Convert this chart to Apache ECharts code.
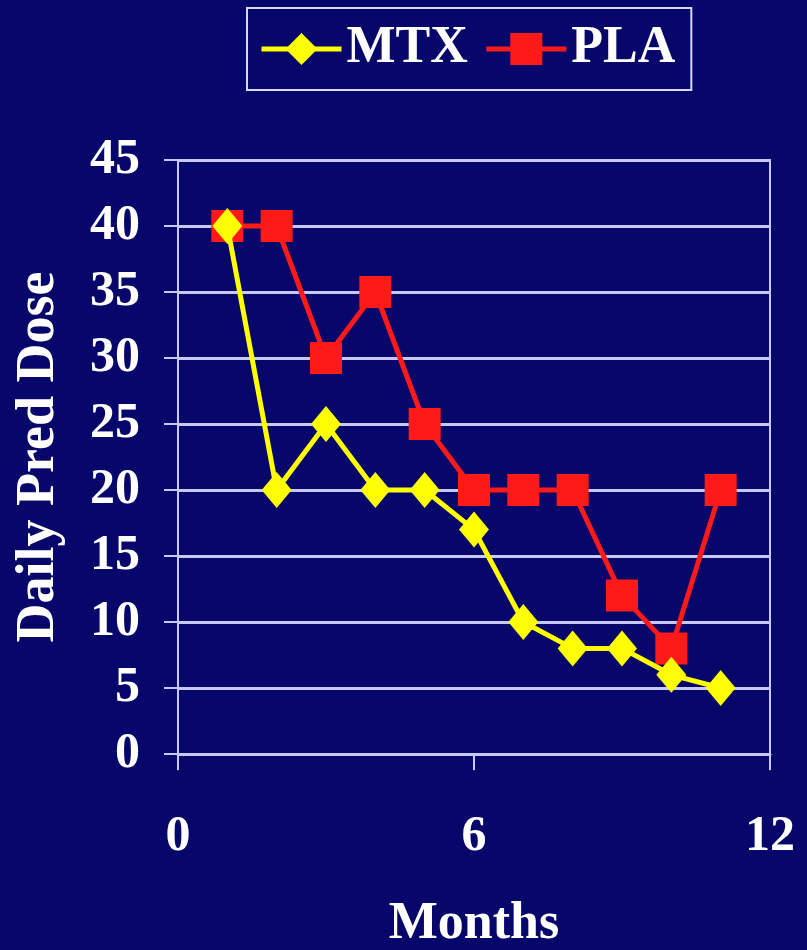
<!DOCTYPE html>
<html>
<head>
<meta charset="utf-8">
<style>
  html, body { margin: 0; padding: 0; background: #06066b; }
  #chart { width: 807px; height: 950px; }
</style>
<script src="https://cdn.jsdelivr.net/npm/echarts@6/dist/echarts.min.js"></script>
</head>
<body>
<div id="chart"></div>
<script>
// Months since start and the daily prednisone dose for each arm
const months = [1, 2, 3, 4, 5, 6, 7, 8, 9, 10, 11];
const mtxDose = [40, 20, 25, 20, 20, 17, 10, 8, 8, 6, 5];
const plaDose = [40, 40, 30, 35, 25, 20, 20, 20, 12, 8, 20];
const seriesNames = ['MTX', 'PLA'];

const FONT = '"Liberation Serif", "Times New Roman", serif';
const INK = '#ffffff';
const GRIDLINE = '#c8c8f4';

const pairs = (ys) => months.map((m, i) => [m, ys[i]]);

const chart = echarts.init(document.getElementById('chart'));
chart.setOption({
  backgroundColor: '#06066b',
  animation: false,
  textStyle: { fontFamily: FONT },
  legend: {
    top: 8,
    left: 247,
    padding: [15, 16, 15, 12],
    borderColor: '#d8d8f8',
    borderWidth: 2,
    itemWidth: 80,
    itemHeight: 40,
    itemGap: 16,
    lineStyle: { width: 5 },
    textStyle: { color: INK, fontSize: 52, fontWeight: 'bold', fontFamily: FONT },
    data: seriesNames
  },
  grid: {
    left: 178, right: 37, top: 160, bottom: 196,
    outerBoundsMode: 'none',
    containLabel: false,
    show: true, borderColor: GRIDLINE, borderWidth: 2
  },
  xAxis: {
    type: 'value',
    min: 0, max: 12, interval: 6,
    name: 'Months',
    nameLocation: 'middle',
    nameGap: 145,
    nameTextStyle: { color: INK, fontSize: 52, fontWeight: 'bold', fontFamily: FONT },
    axisLine: { show: true, lineStyle: { color: GRIDLINE, width: 3 } },
    axisTick: { show: true, length: 16, lineStyle: { color: GRIDLINE, width: 2 } },
    axisLabel: { color: INK, fontSize: 50, fontWeight: 'bold', margin: 58, fontFamily: FONT },
    splitLine: { show: false }
  },
  yAxis: {
    type: 'value',
    min: 0, max: 45, interval: 5,
    name: 'Daily Pred Dose',
    nameLocation: 'middle',
    nameGap: 112,
    nameRotate: 90,
    nameTextStyle: { color: INK, fontSize: 54, fontWeight: 'bold', fontFamily: FONT },
    axisLine: { show: true, lineStyle: { color: GRIDLINE, width: 2 } },
    axisTick: { show: true, length: 14, lineStyle: { color: GRIDLINE, width: 2 } },
    axisLabel: { color: INK, fontSize: 50, fontWeight: 'bold', margin: 38, fontFamily: FONT },
    splitLine: { show: true, lineStyle: { color: GRIDLINE, width: 3 } }
  },
  series: [
    {
      name: 'MTX',
      type: 'line',
      data: pairs(mtxDose),
      symbol: 'diamond',
      symbolSize: [30, 36],
      itemStyle: { color: '#ffff00' },
      lineStyle: { color: '#ffff00', width: 5 },
      z: 3
    },
    {
      name: 'PLA',
      type: 'line',
      data: pairs(plaDose),
      symbol: 'rect',
      symbolSize: 32,
      itemStyle: { color: '#ff1a1a' },
      lineStyle: { color: '#ff1a1a', width: 5 },
      z: 2
    }
  ]
});
</script>
</body>
</html>
